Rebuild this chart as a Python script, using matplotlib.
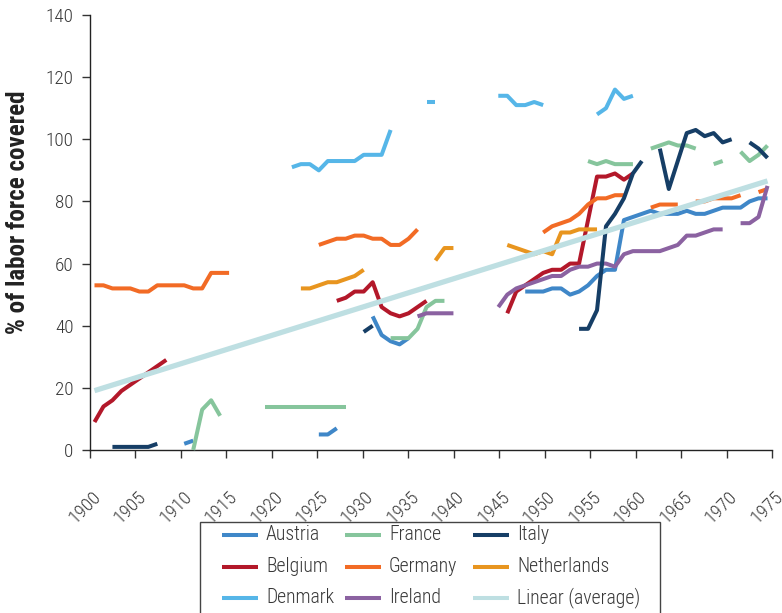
import numpy as np
import matplotlib
matplotlib.use("Agg")
import matplotlib.pyplot as plt
from matplotlib.lines import Line2D
from matplotlib.patches import Rectangle
import matplotlib.transforms as mtransforms

FONT = ['Roboto Condensed', 'Archivo Narrow', 'PT Sans Narrow', 'Liberation Sans Narrow',
        'Liberation Sans', 'DejaVu Sans']
plt.rcParams['font.family'] = FONT

# ---------------- data: (first year of segment, yearly values) ----------------
austria = [(1910, [2, 3]),
           (1925, [5, 5, 7]),
           (1931, [43, 37, 35, 34, 36]),
           (1948, [51, 51, 51, 52, 52, 50, 51, 53, 56, 58, 58, 74, 75, 76, 77, 76,
                   76, 76, 77, 76, 76, 77, 78, 78, 78, 80, 81, 81])]
belgium = [(1900, [9, 14, 16, 19, 21, 23, 25, 27, 29]),
           (1927, [48, 49, 51, 51, 54, 46, 44, 43, 44, 46, 48]),
           (1946, [44, 51, 53, 55, 57, 58, 58, 60, 60, 74, 88, 88, 89, 87, 89])]
denmark = [(1922, [91, 92, 92, 90, 93, 93, 93, 93, 95, 95, 95, 103]),
           (1937, [112, 112]),
           (1945, [114, 114, 111, 111, 112, 111]),
           (1956, [108, 110, 116, 113, 114])]
france = [(1911, [0, 13, 16, 11]),
          (1919, [14, 14, 14, 14, 14, 14, 14, 14, 14, 14]),
          (1933, [36, 36, 36, 39, 46, 48, 48]),
          (1955, [93, 92, 93, 92, 92, 92]),
          (1962, [97, 98, 99, 98, 98, 97]),
          (1969, [92, 93]),
          (1972, [96, 93, 95, 98])]
germany = [(1900, [53, 53, 52, 52, 52, 51, 51, 53, 53, 53, 53, 52, 52, 57, 57, 57]),
           (1925, [66, 67, 68, 68, 69, 69, 68, 68, 66, 66, 68, 71]),
           (1950, [70, 72, 73, 74, 76, 79, 81, 81, 82, 82]),
           (1962, [78, 79, 79, 79]),
           (1967, [80, 80, 81, 81, 81, 82]),
           (1974, [83, 84])]
ireland = [(1936, [43, 44, 44, 44, 44]),
           (1945, [46, 50, 52, 53, 54, 55, 56, 56, 58, 59, 59, 60, 60, 59, 63, 64,
                   64, 64, 64, 65, 66, 69, 69, 70, 71, 71]),
           (1972, [73, 73, 75, 85])]
italy = [(1902, [1, 1, 1, 1, 1, 2]),
         (1930, [38, 40]),
         (1954, [39, 39, 45, 72, 76, 81, 89, 93]),
         (1963, [97, 84, 93, 102, 103, 101, 102, 99, 100]),
         (1973, [99, 97, 94])]
netherlands = [(1923, [52, 52, 53, 54, 54, 55, 56, 58]),
               (1938, [61, 65, 65]),
               (1946, [66, 65, 64, 63, 64, 63, 70, 70, 71, 71, 71])]
trend_years = [1900, 1975]
trend_values = [19.1, 86.6]

series_names = ["Austria", "Belgium", "Denmark", "France", "Germany", "Ireland",
                "Italy", "Netherlands"]
series_data = [austria, belgium, denmark, france, germany, ireland, italy, netherlands]
series_colors = ["#3F87C8", "#B3182A", "#56B6E8", "#86C59C", "#F26B25", "#8B62A1",
                 "#163E66", "#E8951F"]
trend_name = "Linear (average)"
trend_color = "#BEDFE2"

x_tick_labels = ["1900", "1905", "1910", "1915", "1920", "1925", "1930", "1935",
                 "1940", "1945", "1950", "1955", "1960", "1965", "1970", "1975"]
y_ticks = [0, 20, 40, 60, 80, 100, 120, 140]
y_label = "% of labor force covered"

# ---------------- layout ----------------
W, H = 782, 613
fig = plt.figure(figsize=(W / 100, H / 100), dpi=100)
ax = fig.add_axes([90 / W, 1 - 450 / H, 682 / W, 435 / H])

FIRST_YEAR = 1900
N_CAT = 76          # categories 1900..1975, plotted between tick marks


def xpos(years):
    return np.asarray(years, dtype=float) - FIRST_YEAR + 0.5


LW = 2.9
for segs, color in zip(series_data, series_colors):
    for start, vals in segs:
        yrs = np.arange(start, start + len(vals))
        ax.plot(xpos(yrs), vals, color=color, lw=LW, solid_capstyle='butt',
                solid_joinstyle='round', clip_on=False, zorder=3)

ax.plot(xpos(trend_years), trend_values, color=trend_color, lw=3.8,
        solid_capstyle='butt', zorder=4)

TXT = '#383838'
ax.set_xlim(0, N_CAT)
ax.set_ylim(0, 140)
n_lab = len(x_tick_labels)
tick_pos = np.arange(n_lab) * N_CAT / (n_lab - 1)
ax.set_xticks(tick_pos)
ax.set_xticklabels(x_tick_labels, rotation=45, ha='right', va='center',
                   rotation_mode='anchor', fontsize=13.8, color=TXT,
                   fontweight='light')
ax.set_yticks(y_ticks)
ax.set_yticklabels([str(v) for v in y_ticks], fontsize=13.8, color=TXT,
                   fontweight='light')

for s in ['top', 'right']:
    ax.spines[s].set_visible(False)
for s in ['left', 'bottom']:
    ax.spines[s].set_color('#222222')
    ax.spines[s].set_linewidth(1.0)
ax.tick_params(axis='both', direction='out', length=6, width=1, color='#333333')
ax.tick_params(axis='x', pad=0)
ax.tick_params(axis='y', pad=6)

off = mtransforms.ScaledTranslation(8 / 100, -36 / 100, fig.dpi_scale_trans)
for lab in ax.get_xticklabels():
    lab.set_transform(lab.get_transform() + off)

fig.text(18 / W, 1 - 212 / H, y_label, rotation=90, fontweight='bold',
         ha='center', va='center', fontsize=18, color='#222222')

# ---------------- legend (3 columns, box cut by the figure edge) ----------------
box = Rectangle((200 / W, 1 - 650 / H), 460 / W, (650 - 521.5) / H,
                transform=fig.transFigure, fill=False, edgecolor='#444444', lw=1.0)
fig.add_artist(box)

names = series_names + [trend_name]
colors = series_colors + [trend_color]
col_x = [222, 345, 473]
row_y = [535, 566.5, 597.5]
for i, (nm, c) in enumerate(zip(names, colors)):
    col, row = divmod(i, 3)
    x0 = col_x[col]
    y = 1 - row_y[row] / H
    fig.add_artist(Line2D([x0 / W, (x0 + 36) / W], [y, y], transform=fig.transFigure,
                          color=c, lw=LW, solid_capstyle='butt'))
    fig.text((x0 + 44) / W, y, nm, ha='left', va='center', fontsize=14.2,
             color=TXT, fontweight='light')

fig.savefig("out.png", dpi=100)
